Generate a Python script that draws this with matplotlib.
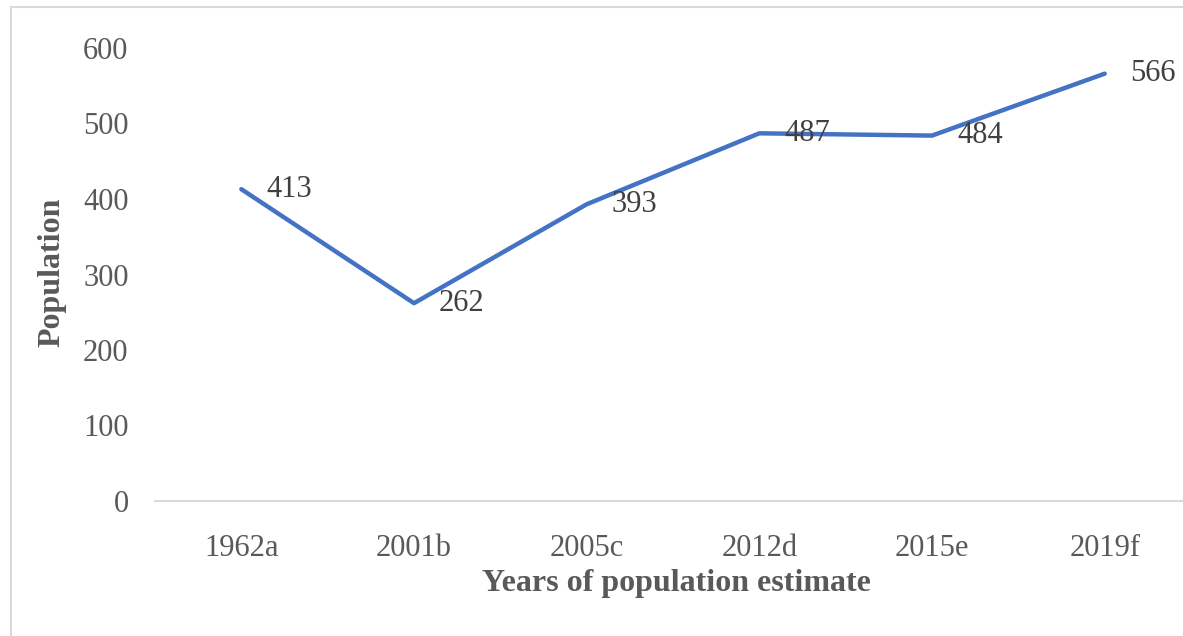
import matplotlib.pyplot as plt
from matplotlib.patches import Rectangle

years = ["1962a", "2001b", "2005c", "2012d", "2015e", "2019f"]
population = [413, 262, 393, 487, 484, 566]
yticks = [0, 100, 200, 300, 400, 500, 600]

plt.rcParams["font.family"] = ["Liberation Serif", "DejaVu Serif"]

fig = plt.figure(figsize=(11.83, 6.36), dpi=100)
W, H = 1183, 636

# chart area border (cropped on right and bottom in reference)
fig.patches.append(Rectangle((11 / W, -0.05), 1.1, 1 - 7 / H + 0.05,
                             transform=fig.transFigure, fill=False,
                             edgecolor="#d9d9d9", lw=1.5))

ax = fig.add_axes([155 / W, 1 - 501 / H, (1191 - 155) / W, (501 - 48) / H])
x = range(len(years))
ax.plot(x, population, color="#4472C4", lw=3.2, solid_capstyle="round")
ax.set_xlim(-0.5, len(years) - 0.5)
ax.set_ylim(0, 600)
ax.set_xticks(list(x))
ax.set_xticklabels(years)
ax.set_yticks(yticks)
ax.tick_params(length=0, labelsize=22, colors="#595959")
ax.tick_params(axis="y", pad=19)
ax.tick_params(axis="x", pad=24)
for s in ["top", "right", "left"]:
    ax.spines[s].set_visible(False)
ax.spines["bottom"].set_color("#d9d9d9")
ax.spines["bottom"].set_linewidth(1.5)
ax.patch.set_alpha(0)

for xi, v in zip(x, population):
    ax.annotate(str(v), (xi, v), xytext=(18, 0), textcoords="offset points",
                ha="left", va="center", fontsize=22, color="#404040")

fig.text(676 / W, 1 - 583 / H, "Years of population estimate", ha="center",
         va="center", fontsize=23, fontweight="bold", color="#595959")
fig.text(52 / W, 1 - 272 / H, "Population", ha="center", va="center",
         rotation=90, fontsize=23, fontweight="bold", color="#595959")

fig.savefig("out.png", dpi=100)
